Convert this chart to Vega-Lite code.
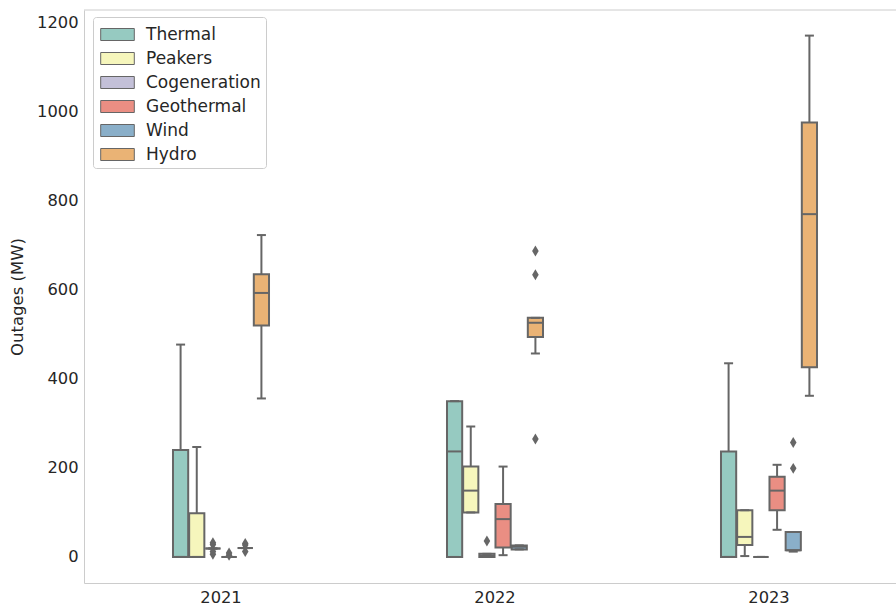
{
  "$schema": "https://vega.github.io/schema/vega-lite/v6.json",
  "width": 812,
  "height": 573,
  "autosize": {"type": "none"},
  "padding": {"left": 84, "top": 10, "right": 0, "bottom": 23},
  "background": "white",
  "config": {
    "font": "DejaVu Sans",
    "view": {"stroke": null},
    "axis": {
      "grid": false,
      "ticks": false,
      "domainColor": "#cccccc",
      "domainWidth": 1,
      "labelFontSize": 16.3,
      "labelColor": "#262626",
      "labelPadding": 6,
      "titleFontSize": 16.5,
      "titleFontWeight": "normal",
      "titleColor": "#262626"
    }
  },
  "datasets": {
    "boxes": [
      {"Year": "2021", "Source": "Thermal", "lower": 0, "q1": 0, "median": 0, "q3": 240, "upper": 477},
      {"Year": "2021", "Source": "Peakers", "lower": 0, "q1": 0, "median": 0, "q3": 98, "upper": 247},
      {"Year": "2021", "Source": "Cogeneration", "lower": 19, "q1": 19, "median": 19, "q3": 19, "upper": 19},
      {"Year": "2021", "Source": "Geothermal", "lower": 0, "q1": 0, "median": 0, "q3": 0, "upper": 0},
      {"Year": "2021", "Source": "Wind", "lower": 20, "q1": 20, "median": 20, "q3": 20, "upper": 20},
      {"Year": "2021", "Source": "Hydro", "lower": 356, "q1": 520, "median": 593, "q3": 635, "upper": 723},
      {"Year": "2022", "Source": "Thermal", "lower": 0, "q1": 0, "median": 237, "q3": 350, "upper": 350},
      {"Year": "2022", "Source": "Peakers", "lower": 100, "q1": 100, "median": 149, "q3": 203, "upper": 293},
      {"Year": "2022", "Source": "Cogeneration", "lower": 0, "q1": 0, "median": 3, "q3": 7, "upper": 7},
      {"Year": "2022", "Source": "Geothermal", "lower": 4, "q1": 21, "median": 85, "q3": 119, "upper": 203},
      {"Year": "2022", "Source": "Wind", "lower": 17, "q1": 17, "median": 23, "q3": 26, "upper": 26},
      {"Year": "2022", "Source": "Hydro", "lower": 457, "q1": 494, "median": 526, "q3": 537, "upper": 537},
      {"Year": "2023", "Source": "Thermal", "lower": 0, "q1": 0, "median": 0, "q3": 237, "upper": 435},
      {"Year": "2023", "Source": "Peakers", "lower": 2, "q1": 27, "median": 45, "q3": 105, "upper": 105},
      {"Year": "2023", "Source": "Cogeneration", "lower": 0, "q1": 0, "median": 0, "q3": 0, "upper": 0},
      {"Year": "2023", "Source": "Geothermal", "lower": 61, "q1": 105, "median": 149, "q3": 180, "upper": 207},
      {"Year": "2023", "Source": "Wind", "lower": 12, "q1": 15, "median": 15, "q3": 56, "upper": 56},
      {"Year": "2023", "Source": "Hydro", "lower": 362, "q1": 426, "median": 770, "q3": 976, "upper": 1171}
    ],
    "outliers": [
      {"Year": "2021", "Source": "Cogeneration", "value": 6},
      {"Year": "2021", "Source": "Cogeneration", "value": 12},
      {"Year": "2021", "Source": "Cogeneration", "value": 28},
      {"Year": "2021", "Source": "Cogeneration", "value": 32},
      {"Year": "2021", "Source": "Geothermal", "value": 4},
      {"Year": "2021", "Source": "Geothermal", "value": 9},
      {"Year": "2021", "Source": "Wind", "value": 12},
      {"Year": "2021", "Source": "Wind", "value": 27},
      {"Year": "2021", "Source": "Wind", "value": 30},
      {"Year": "2022", "Source": "Cogeneration", "value": 36},
      {"Year": "2022", "Source": "Hydro", "value": 265},
      {"Year": "2022", "Source": "Hydro", "value": 634},
      {"Year": "2022", "Source": "Hydro", "value": 687},
      {"Year": "2023", "Source": "Wind", "value": 199},
      {"Year": "2023", "Source": "Wind", "value": 257}
    ]
  },
  "layer": [
    {
      "data": {"name": "boxes"},
      "mark": {"type": "rule", "color": "#666666", "strokeWidth": 2},
      "encoding": {
        "x": {"field": "Year", "type": "nominal", "scale": {"range": [0, 822], "paddingInner": 0.6496, "paddingOuter": 0.3248}, "axis": {"title": null, "labelAngle": 0}},
        "xOffset": {"field": "Source", "type": "nominal", "sort": ["Thermal", "Peakers", "Cogeneration", "Geothermal", "Wind", "Hydro"], "scale": {"paddingInner": 0.06, "paddingOuter": 0}},
        "y": {"field": "lower", "type": "quantitative", "scale": {"domain": [-58.5, 1228.5], "nice": false, "zero": false}, "axis": {"title": "Outages (MW)", "values": [0, 200, 400, 600, 800, 1000, 1200], "format": "d", "titlePadding": 11}},
        "y2": {"field": "upper"}
      }
    },
    {
      "data": {"name": "boxes"},
      "mark": {"type": "bar", "stroke": "#666666", "strokeWidth": 2, "opacity": 1},
      "encoding": {
        "x": {"field": "Year", "type": "nominal"},
        "xOffset": {"field": "Source", "type": "nominal", "sort": ["Thermal", "Peakers", "Cogeneration", "Geothermal", "Wind", "Hydro"]},
        "y": {"field": "q1", "type": "quantitative"},
        "y2": {"field": "q3"},
        "color": {
          "field": "Source", "type": "nominal",
          "sort": ["Thermal", "Peakers", "Cogeneration", "Geothermal", "Wind", "Hydro"],
          "scale": {"domain": ["Thermal", "Peakers", "Cogeneration", "Geothermal", "Wind", "Hydro"], "range": ["#96cac1", "#f6f6bc", "#c3c0d8", "#ea8e83", "#8aafc9", "#eab375"]},
          "legend": {
            "title": null,
            "orient": "none",
            "legendX": 9,
            "legendY": 7,
            "padding": 5,
            "fillColor": "rgba(255,255,255,0.8)",
            "strokeColor": "#cccccc",
            "cornerRadius": 3,
            "symbolType": "M-1.4,-0.5H1.4V0.5H-1.4Z",
            "symbolSize": 576,
            "symbolStrokeColor": "#666666",
            "symbolStrokeWidth": 1,
            "symbolOpacity": 1,
            "symbolOffset": 7,
            "labelOffset": 16,
            "labelFontSize": 17,
            "labelColor": "#262626",
            "rowPadding": 3
          }
        }
      }
    },
    {
      "data": {"name": "boxes"},
      "mark": {"type": "tick", "color": "#666666", "thickness": 2, "size": 15, "opacity": 1},
      "encoding": {
        "x": {"field": "Year", "type": "nominal"},
        "xOffset": {"field": "Source", "type": "nominal", "sort": ["Thermal", "Peakers", "Cogeneration", "Geothermal", "Wind", "Hydro"]},
        "y": {"field": "median", "type": "quantitative"}
      }
    },
    {
      "data": {"name": "boxes"},
      "mark": {"type": "tick", "color": "#666666", "thickness": 2, "size": 9, "opacity": 1},
      "encoding": {
        "x": {"field": "Year", "type": "nominal"},
        "xOffset": {"field": "Source", "type": "nominal", "sort": ["Thermal", "Peakers", "Cogeneration", "Geothermal", "Wind", "Hydro"]},
        "y": {"field": "lower", "type": "quantitative"}
      }
    },
    {
      "data": {"name": "boxes"},
      "mark": {"type": "tick", "color": "#666666", "thickness": 2, "size": 9, "opacity": 1},
      "encoding": {
        "x": {"field": "Year", "type": "nominal"},
        "xOffset": {"field": "Source", "type": "nominal", "sort": ["Thermal", "Peakers", "Cogeneration", "Geothermal", "Wind", "Hydro"]},
        "y": {"field": "upper", "type": "quantitative"}
      }
    },
    {
      "data": {"name": "outliers"},
      "mark": {"type": "point", "shape": "M0,-1L0.6,0L0,1L-0.6,0Z", "filled": true, "color": "#666666", "size": 120, "opacity": 1},
      "encoding": {
        "x": {"field": "Year", "type": "nominal"},
        "xOffset": {"field": "Source", "type": "nominal", "sort": ["Thermal", "Peakers", "Cogeneration", "Geothermal", "Wind", "Hydro"]},
        "y": {"field": "value", "type": "quantitative"}
      }
    },
    {
      "data": {"values": [{"top": 1228.5}]},
      "mark": {"type": "rule", "color": "#cccccc", "strokeWidth": 1},
      "encoding": {
        "y": {"field": "top", "type": "quantitative"}
      }
    }
  ]
}
